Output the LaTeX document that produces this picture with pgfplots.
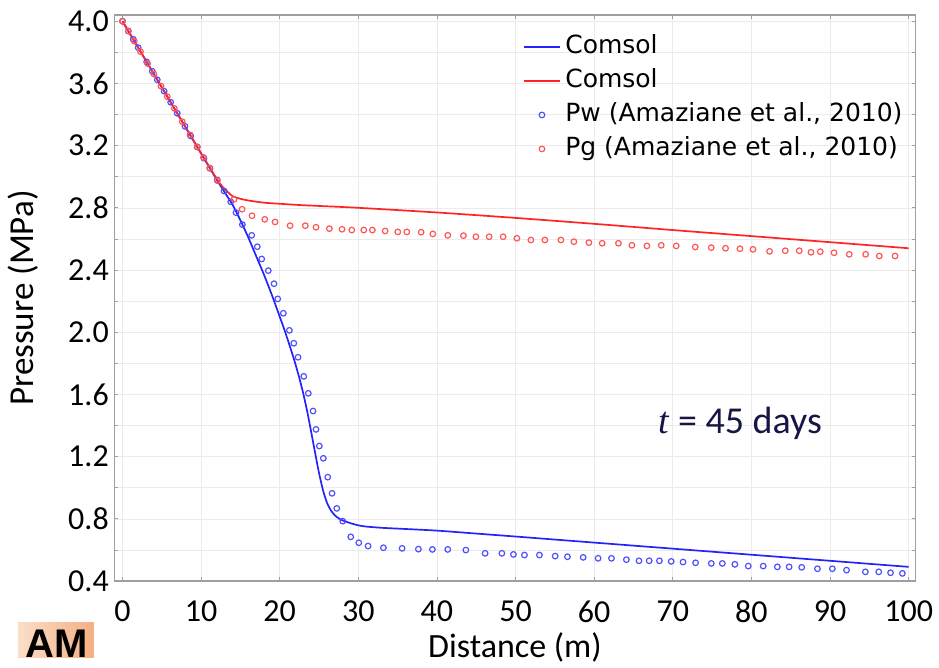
\documentclass[border=0pt]{standalone}
\usepackage{fontspec}
\setmainfont{Carlito}
\newfontfamily\legfont{DejaVu Sans}
\newfontfamily\serifit{Liberation Serif}
\newfontfamily\logofont{Liberation Sans}
\usepackage{pgfplots}
\usepackage{pgfplotstable}
\pgfplotsset{compat=1.18}
\definecolor{cblue}{RGB}{35,35,250}
\definecolor{cred}{RGB}{255,35,35}
\definecolor{mblue}{RGB}{80,80,255}
\definecolor{mred}{RGB}{255,85,85}
\definecolor{navy}{RGB}{22,22,70}
\definecolor{peachL}{RGB}{250,222,200}
\definecolor{peachR}{RGB}{245,175,130}

\pgfplotstableread{
x y
0 4.0
5 3.575
10 3.15
12 2.98
13 2.90
14 2.82
15 2.72
16 2.61
17 2.49
18 2.37
19 2.24
20 2.10
20.5 2.03
21 1.955
21.5 1.877
22 1.795
22.5 1.705
23 1.605
23.5 1.49
24 1.36
24.5 1.225
25 1.095
25.5 0.985
26 0.905
26.5 0.855
27 0.823
27.5 0.803
28 0.790
29 0.772
30 0.758
31 0.750
33 0.742
35 0.737
40 0.724
45 0.705
50 0.686
60 0.647
70 0.608
80 0.569
90 0.530
100 0.491
}\comsolw

\pgfplotstableread{
x y
0 4.0
5 3.575
10 3.15
12 2.985
12.5 2.95
13 2.92
13.5 2.897
14 2.875
15 2.858
16 2.847
18 2.833
20 2.826
22.5 2.818
25 2.812
30 2.80
40 2.77
50 2.735
60 2.697
70 2.657
80 2.618
90 2.579
100 2.54
}\comsolg

\pgfplotstableread{
x y
0.0 4.000
0.74 3.937
1.37 3.884
2.0 3.830
3.08 3.738
3.79 3.678
4.43 3.623
5.3 3.550
6.13 3.479
6.97 3.408
7.95 3.324
8.68 3.262
9.52 3.191
10.37 3.119
11.13 3.054
12.06 2.979
12.92 2.908
13.77 2.839
14.44 2.769
15.25 2.692
16.44 2.623
17.15 2.550
17.71 2.471
18.55 2.396
19.28 2.312
19.75 2.214
20.46 2.122
21.23 2.012
21.79 1.929
22.33 1.839
23.06 1.716
23.64 1.607
24.24 1.493
24.62 1.375
25.04 1.268
25.55 1.189
26.11 1.068
26.66 0.964
27.26 0.867
28.02 0.785
29.04 0.684
30.06 0.646
31.24 0.625
33.19 0.614
35.57 0.610
37.64 0.605
39.42 0.603
41.38 0.603
43.68 0.599
46.13 0.578
48.26 0.578
49.73 0.571
51.13 0.567
53.04 0.567
55.04 0.560
56.6 0.556
58.6 0.552
60.5 0.546
62.2 0.546
64.1 0.537
65.7 0.530
67.0 0.530
68.3 0.530
69.8 0.526
71.3 0.522
72.9 0.517
74.9 0.513
76.3 0.513
77.9 0.507
79.6 0.496
81.5 0.496
83.3 0.491
84.8 0.491
86.4 0.488
88.4 0.479
90.3 0.479
92.1 0.470
94.5 0.459
96.2 0.459
97.7 0.453
99.2 0.449
}\pw

\pgfplotstableread{
x y
0.0 4.000
0.74 3.937
1.5 3.872
2.3 3.804
3.2 3.728
4.0 3.660
4.9 3.583
5.7 3.515
6.6 3.439
7.6 3.354
8.6 3.269
9.5 3.192
10.3 3.124
11.1 3.056
12.06 2.975
14.19 2.855
15.21 2.791
16.48 2.749
18.10 2.726
19.41 2.709
21.32 2.685
23.26 2.685
24.62 2.675
26.32 2.666
27.93 2.662
29.17 2.657
30.69 2.657
31.79 2.657
33.41 2.651
35.02 2.645
36.17 2.645
37.99 2.643
39.48 2.632
41.38 2.623
43.37 2.621
44.95 2.614
46.64 2.614
48.42 2.614
50.17 2.604
51.95 2.593
53.73 2.593
55.77 2.593
57.42 2.582
59.33 2.576
61.02 2.572
63.09 2.572
64.8 2.559
66.71 2.555
68.53 2.559
70.44 2.555
72.86 2.548
74.89 2.544
76.71 2.540
78.54 2.537
80.2 2.533
82.31 2.520
84.31 2.524
86.09 2.524
87.58 2.514
88.76 2.518
90.51 2.511
92.45 2.501
94.53 2.501
96.27 2.490
98.27 2.490
}\pg

\begin{document}
\begin{tikzpicture}
\begin{axis}[
  width=801.4pt, height=566pt, scale only axis,
  xmin=-1.04, xmax=100.9, ymin=0.4, ymax=4.04,
  xtick={0,10,20,30,40,50,60,70,80,90,100},
  ytick={0.4,0.8,1.2,1.6,2.0,2.4,2.8,3.2,3.6,4.0},
  minor ytick={0.6,1.0,1.4,1.8,2.2,2.6,3.0,3.4,3.8},
  grid=both,
  major grid style={gray!16, line width=0.6pt},
  minor grid style={gray!16, line width=0.6pt},
  axis line style={gray!75, line width=1.2pt},
  tick style={gray!75, line width=0.8pt},
  major tick length=4pt, minor tick length=4pt,
  tick align=inside,
  /pgf/number format/assume math mode=true,
  tick label style={font=\fontsize{32}{36}\selectfont, black},
  yticklabel style={/pgf/number format/fixed, /pgf/number format/fixed zerofill, /pgf/number format/precision=1, xshift=-2pt},
  xticklabel style={yshift=-16pt},
  xlabel={Distance (m)},
  ylabel={Pressure (MPa)},
  xlabel style={at={(axis description cs:0.5,-0.1360)}, anchor=base, font=\fontsize{34}{38}\selectfont},
  ylabel style={at={(axis description cs:-0.1014,0.5)}, anchor=base, font=\fontsize{35}{39}\selectfont},
  legend image code/.code={\draw[mark repeat=2,mark phase=2,#1] plot coordinates {(0pt,0pt) (17.5pt,0pt) (35pt,0pt)};},
  legend style={draw=none, fill=none, at={(axis description cs:0.5105,0.9677)}, anchor=north west,
    font=\legfont\fontsize{25}{28}\selectfont, inner sep=0pt, row sep=7pt, column sep=4pt,
    nodes={inner sep=1pt, text height=19pt, text depth=6pt}},
  legend cell align=left,
]
\addplot[only marks, mark=o, mark size=2.8pt, mblue, mark options={line width=1.2pt}, forget plot] table[x=x,y=y] {\pw};
\addplot[only marks, mark=o, mark size=2.8pt, mred, mark options={line width=1.2pt}, forget plot] table[x=x,y=y] {\pg};
\addplot[cblue, line width=1.7pt, smooth, tension=0.4, no marks] table[x=x,y=y] {\comsolw};
\addlegendentry{Comsol}
\addplot[cred, line width=1.7pt, smooth, tension=0.4, no marks] table[x=x,y=y] {\comsolg};
\addlegendentry{Comsol}
\addlegendimage{only marks, mark=o, mark size=2.8pt, mblue, mark options={line width=1.2pt}}
\addlegendentry{Pw (Amaziane et al., 2010)}
\addlegendimage{only marks, mark=o, mark size=2.8pt, mred, mark options={line width=1.2pt}}
\addlegendentry{Pg (Amaziane et al., 2010)}
\node[anchor=base, text=navy, font=\fontsize{38}{42}\selectfont] at (axis cs:78.6,1.35) {{\serifit\itshape t} = 45 days};
\end{axis}
\pgfresetboundingbox
\path[use as bounding box] ([shift={(-114.3pt,-86pt)}]current axis.south west) rectangle ([shift={(23.3pt,15pt)}]current axis.north east);
\shade[left color=peachL, right color=peachR] ([shift={(-96.3pt,-41pt)}]current axis.south west) rectangle ([shift={(-20.3pt,-76pt)}]current axis.south west);
\node[anchor=base west, inner sep=0pt, font=\logofont\bfseries\fontsize{40}{44}\selectfont] at ([shift={(-89pt,-76pt)}]current axis.south west) {AM};
\end{tikzpicture}
\end{document}
